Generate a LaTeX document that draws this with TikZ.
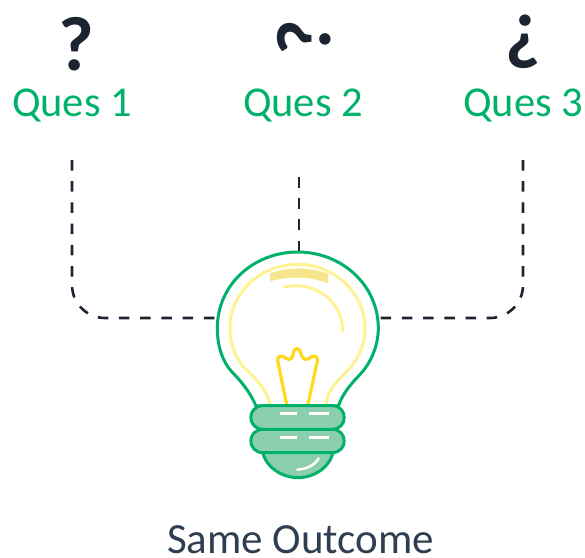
\documentclass[tikz,border=0pt]{standalone}
\usepackage{fontspec}
\setmainfont{Carlito}
\definecolor{qgreen}{HTML}{00B16A}
\definecolor{qdark}{HTML}{1B2430}
\definecolor{qtext}{HTML}{2F3E50}
\definecolor{qfill}{HTML}{8CCFAE}
\definecolor{qpale}{HTML}{FFF391}
\definecolor{qband}{HTML}{F7E58E}
\definecolor{qwire}{HTML}{FFD91A}
\tikzset{
  label text/.style={font=\fontsize{42.5}{42.5}\selectfont,text=qgreen,inner sep=0pt,anchor=base},
  mark text/.style={font=\fontsize{77}{77}\bfseries\selectfont,text=qdark,inner sep=0pt},
  connector/.style={draw=qdark,line width=2.6pt,dash pattern=on 10.5pt off 10.7pt},
  bulb line/.style={draw=qgreen,line width=3pt,line join=round},
  base part/.style={bulb line,fill=qfill},
  pale/.style={draw=qpale,line width=3pt,line cap=round},
  glint/.style={draw=white,line width=2.4pt},
}
\begin{document}
\begin{tikzpicture}[x=1pt,y=-1pt]
\useasboundingbox (0,0) rectangle (585,557);
\node[mark text] (m1) at (76,44) {?};
\node[mark text,rotate=90] (m2) at (304,38) {?};
\node[mark text,rotate=180] (m3) at (524,42) {?};
\node[label text] (q1) at (72,116) {Ques 1};
\node[label text] (q2) at (303,116) {Ques 2};
\node[label text] (q3) at (523,116) {Ques 3};
\node[font=\fontsize{43}{43}\selectfont,text=qtext,inner sep=0pt,anchor=base] (out) at (300.5,553) {Same Outcome};
\coordinate (b) at (298,318);
\coordinate (s1) at (72,160);
\coordinate (s2) at (299,177);
\coordinate (s3) at (523,160);
\coordinate (bt) at (299,252);
\draw[connector,rounded corners=33pt] (s1) |- (b);
\draw[connector] (s2) -- (bt);
\draw[connector,rounded corners=33pt] (s3) |- (b);
\begin{scope}[shift={(200,240)},x=0.3333pt,y=-0.3333pt]
% glass
\path[bulb line,fill=white] (168,498)
  .. controls (150,455) and (120,420) .. (95,395)
  .. controls (68,365) and (52,320) .. (52,265)
  .. controls (52,130) and (165,36) .. (293,36)
  .. controls (425,36) and (535,135) .. (535,265)
  .. controls (535,320) and (510,370) .. (485,398)
  .. controls (460,425) and (430,455) .. (415,498) -- cycle;
% inner glow
\draw[pale] (210,493)
  .. controls (200,445) and (160,410) .. (130,380)
  .. controls (105,350) and (90,310) .. (90,262)
  .. controls (90,160) and (180,73) .. (292,73)
  .. controls (405,73) and (495,160) .. (495,265)
  .. controls (495,320) and (470,365) .. (440,395)
  .. controls (415,420) and (385,445) .. (378,493);
\draw[pale] (253,141) .. controls (350,120) and (430,190) .. (428,273);
\path[fill=qband,draw=qband!70!qpale,line width=1pt] (212,100) .. controls (270,82) and (330,82) .. (384,103) -- (384,128) .. controls (330,108) and (270,106) .. (212,122) -- cycle;
% filament
\draw[qwire,line width=3.2pt,line join=round,line cap=round] (260,493) -- (233,362)
  .. controls (230,345) and (250,345) .. (258,355)
  .. controls (272,365) and (280,350) .. (280,338)
  .. controls (282,322) and (300,322) .. (302,338)
  .. controls (304,352) and (315,365) .. (328,355)
  .. controls (338,345) and (355,345) .. (352,362) -- (324,493);
% base
\path[base part] (187,632) .. controls (195,680) and (245,713) .. (293,713) .. controls (345,713) and (392,680) .. (400,632) -- cycle;
\path[base part] (190,568) -- (396,568) .. controls (445,568) and (445,638) .. (396,638) -- (190,638) .. controls (140,638) and (140,568) .. (190,568) -- cycle;
\path[base part] (190,497) -- (396,497) .. controls (445,497) and (445,568) .. (396,568) -- (190,568) .. controls (140,568) and (140,497) .. (190,497) -- cycle;
\draw[glint] (241,521) -- (291,521) (328,521) -- (387,521);
\draw[glint] (241,592) -- (291,592) (328,592) -- (387,592);
\draw[glint,line cap=round] (292,689) .. controls (320,688) and (345,675) .. (356,655);
\end{scope}
\end{tikzpicture}
\end{document}
